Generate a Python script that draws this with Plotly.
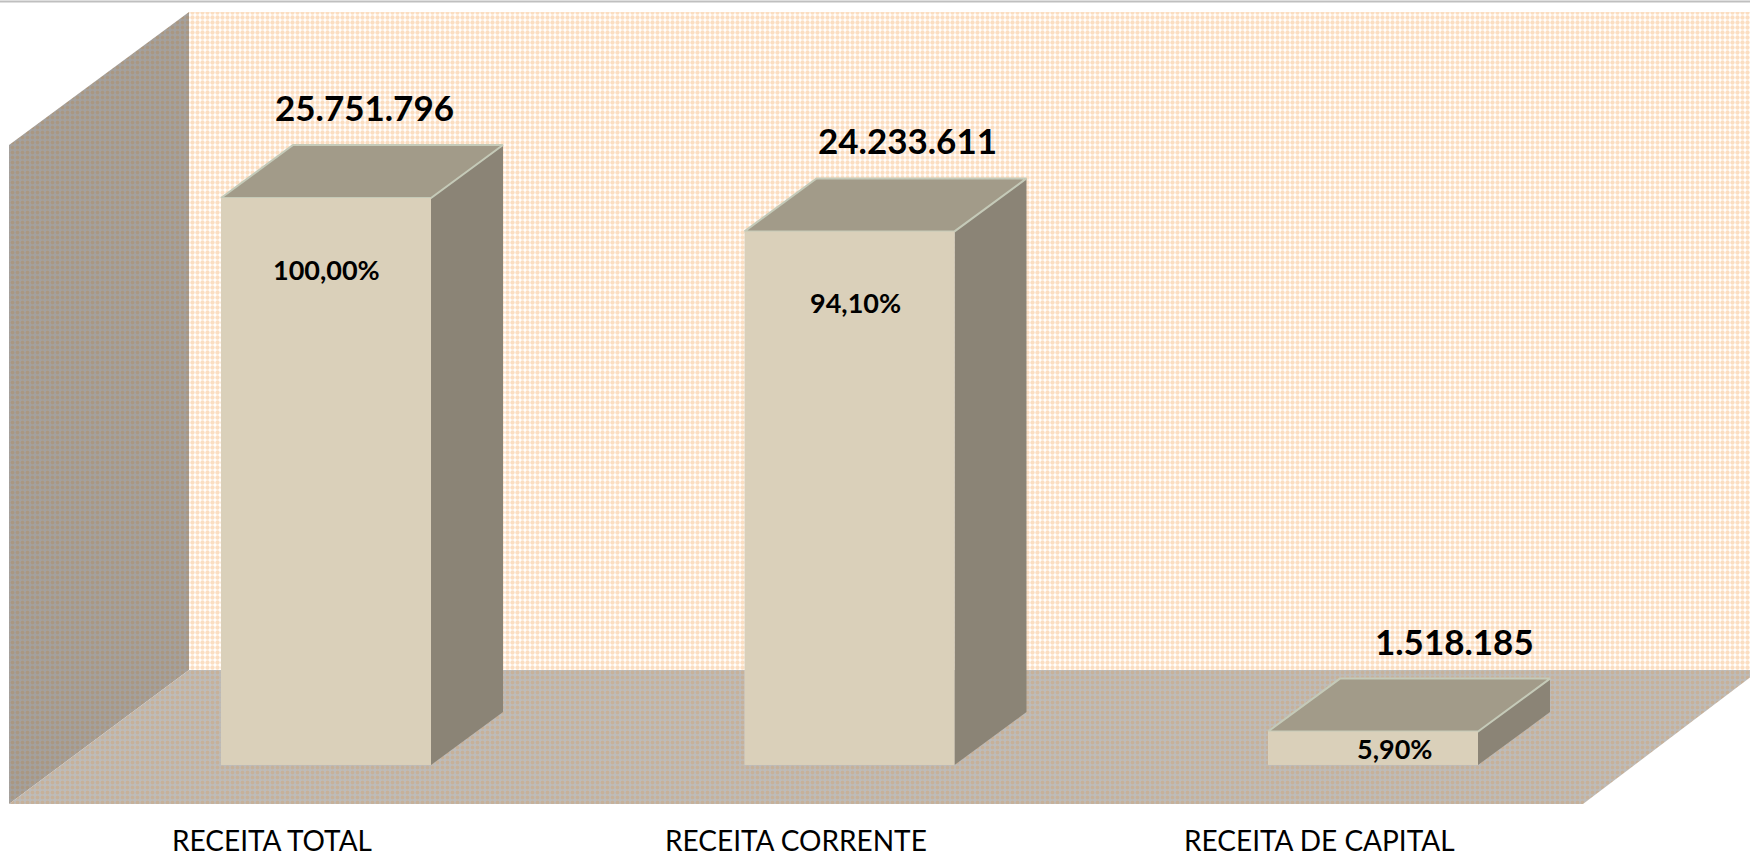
import plotly.graph_objects as go

# ---- data ----
categories = ["RECEITA TOTAL", "RECEITA CORRENTE", "RECEITA DE CAPITAL"]
values = [25751796, 24233611, 1518185]
value_labels = ["25.751.796", "24.233.611", "1.518.185"]
pct_labels = ["100,00%", "94,10%", "5,90%"]

# ---- styling / geometry (pixels) ----
W, H = 1750, 858
BASE_PX = 765            # pixel row of value 0 (bar front base)
TOP_PX = 198             # pixel row of the max value
SPACING_PX = 523.5       # distance between category centres
FIRST_PX = 326           # first category front centre
HALF_W_PX = 105          # half bar front width
DEPTH_DX, DEPTH_DY = 72, 53   # bar depth offset
val_per_px = max(values) / (BASE_PX - TOP_PX)

def px_x(p):
    return (p - FIRST_PX) / SPACING_PX

def px_y(p):
    return (BASE_PX - p) * val_per_px

xr = [px_x(0), px_x(W)]
yr = [px_y(H), px_y(0)]
hw = HALF_W_PX / SPACING_PX
ddx = DEPTH_DX / SPACING_PX
ddy = DEPTH_DY * val_per_px

FRONT = "#DAD0BA"
TOP = "#A29B89"
SIDE = "#8B8476"
EDGE = "#C5CAB8"
FONT = "Lato, Noto Sans, sans-serif"

fig = go.Figure()

def poly(xs, ys, color=None, line_color=None, line_w=0, pattern=None):
    fig.add_trace(go.Scatter(
        x=list(xs) + [xs[0]], y=list(ys) + [ys[0]],
        mode="lines", fill="toself",
        fillcolor=color,
        fillpattern=pattern,
        line=dict(color=line_color or "rgba(0,0,0,0)", width=line_w),
        hoverinfo="skip", showlegend=False))

# walls (chart decoration): back wall, left wall, floor
wall_top, wall_back_bottom, floor_front = 12, 670, 804
left_front, left_back = 9, 189
left_front_top = 145
poly([px_x(left_back), px_x(W), px_x(W), px_x(left_back)],
     [px_y(wall_top), px_y(wall_top), px_y(wall_back_bottom), px_y(wall_back_bottom)],
     pattern=dict(shape=".", fgcolor="#F8BE86", bgcolor="#FFFFFF", size=5, solidity=0.6))
poly([px_x(left_front), px_x(left_back), px_x(left_back), px_x(left_front)],
     [px_y(left_front_top), px_y(wall_top), px_y(wall_back_bottom), px_y(floor_front)],
     pattern=dict(shape=".", fgcolor="#B08D66", bgcolor="#A3A19F", size=5, solidity=0.45))
poly([px_x(left_front), px_x(1583), px_x(W + 10), px_x(left_back)],
     [px_y(floor_front), px_y(floor_front), px_y(wall_back_bottom), px_y(wall_back_bottom)],
     pattern=dict(shape=".", fgcolor="#D0A679", bgcolor="#BDBCBA", size=5, solidity=0.45))

# bars
for i, v in enumerate(values):
    x0, x1 = i - hw, i + hw
    # side
    poly([x1, x1 + ddx, x1 + ddx, x1], [0, ddy, v + ddy, v], color=SIDE)
    # top
    poly([x0, x1, x1 + ddx, x0 + ddx], [v, v, v + ddy, v + ddy], color=TOP,
         line_color=EDGE, line_w=2)
    # front
    poly([x0, x1, x1, x0], [0, 0, v, v], color=FRONT)

# labels
value_label_shift = [2, 22, 45]
pct_label_shift = [0, 6, 21]
cat_label_shift = -54
for i, v in enumerate(values):
    fig.add_annotation(x=i + ddx / 2, y=v + ddy, text=f"<b>{value_labels[i]}</b>",
                       xref="x", yref="y", showarrow=False, yanchor="middle",
                       xshift=value_label_shift[i], yshift=38,
                       font=dict(family=FONT, size=35, color="#000000"))
    bar_h_px = v / val_per_px
    if bar_h_px > 150:
        py, ys = v, -71
    else:
        py, ys = v / 2, 0
    fig.add_annotation(x=i, y=py, text=f"<b>{pct_labels[i]}</b>",
                       xref="x", yref="y", showarrow=False, yanchor="middle",
                       xshift=pct_label_shift[i], yshift=ys,
                       font=dict(family=FONT, size=27, color="#000000"))
    fig.add_annotation(x=i, y=0, text=categories[i],
                       xref="x", yref="paper", showarrow=False, yanchor="bottom",
                       xshift=cat_label_shift, borderpad=0,
                       font=dict(family=FONT, size=28, color="#000000"))

# top border line
fig.add_shape(type="line", xref="paper", yref="paper", x0=0, x1=1,
              y0=1 - 1.5 / H, y1=1 - 1.5 / H, line=dict(color="#BFBFBF", width=2))

fig.update_layout(
    width=W, height=H, margin=dict(l=0, r=0, t=0, b=0),
    paper_bgcolor="#FFFFFF", plot_bgcolor="#FFFFFF",
    xaxis=dict(range=xr, visible=False, fixedrange=True),
    yaxis=dict(range=yr, visible=False, fixedrange=True),
    showlegend=False,
)

fig.write_html("out.html", config={"displayModeBar": False},
               post_script="document.body.style.margin='0';")
